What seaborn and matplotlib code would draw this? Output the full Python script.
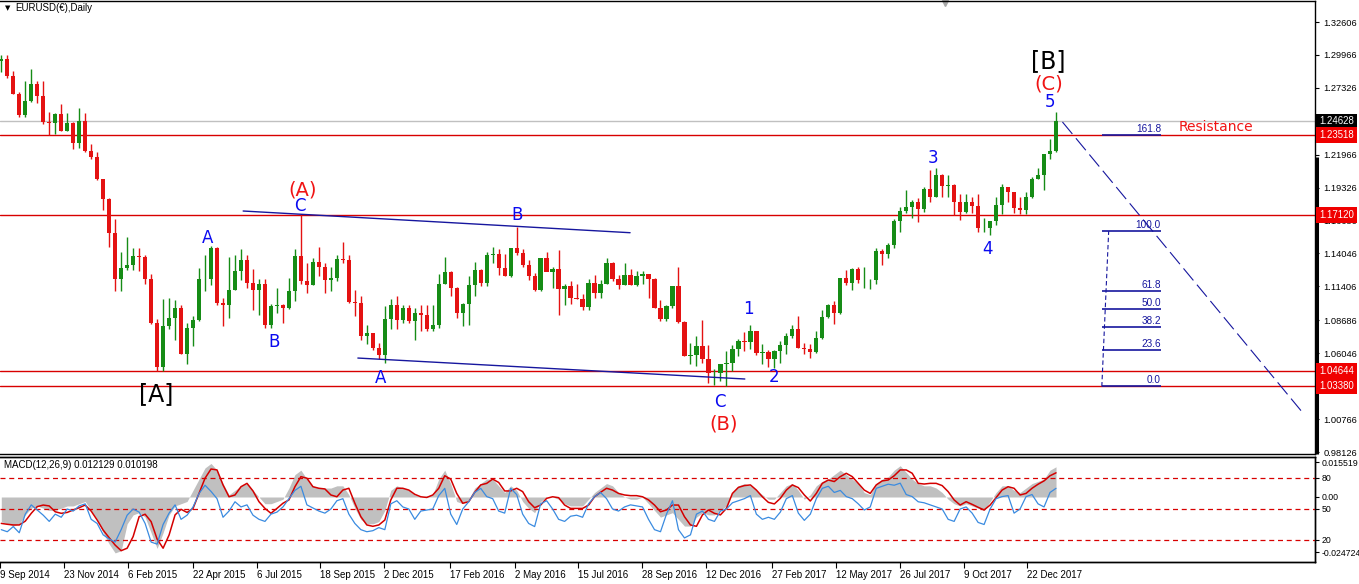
import matplotlib
matplotlib.use("Agg")
import matplotlib.pyplot as plt
import matplotlib.dates as mdates
import matplotlib.transforms as mtransforms
import numpy as np
import pandas as pd
import seaborn as sns

# ---- weekly EURUSD bars (week starting Monday) ----
week_start = pd.date_range("2014-09-08", periods=177, freq="W-MON")
first_open = 1.2950

high = [
    # 2014
    1.2995, 1.3000, 1.2865, 1.2700, 1.2790, 1.2887, 1.2790, 1.2790, 1.2540,
    1.2530, 1.2600, 1.2530, 1.2455, 1.2570, 1.2530, 1.2285, 1.2220,
    # 2015
    1.2005, 1.1850, 1.1680, 1.1420, 1.1535, 1.1450, 1.1450, 1.1390, 1.1240,
    1.0880, 1.1043, 1.1050, 1.1030, 1.0990, 1.0850, 1.0900, 1.1290, 1.1390,
    1.1467, 1.1455, 1.1050, 1.1380, 1.1390, 1.1437, 1.1390, 1.1280, 1.1200,
    1.1200, 1.1000, 1.1130, 1.1000, 1.1210, 1.1440, 1.1714, 1.1330, 1.1370,
    1.1460, 1.1330, 1.1300, 1.1390, 1.1495, 1.1390, 1.1110, 1.1060, 1.0830,
    1.0770, 1.0690, 1.0980, 1.1040, 1.1060, 1.0990, 1.0990,
    # 2016
    1.0970, 1.0990, 1.0990, 1.0990, 1.1240, 1.1376, 1.1260, 1.1135, 1.1010,
    1.1220, 1.1340, 1.1280, 1.1420, 1.1460, 1.1440, 1.1400, 1.1450, 1.1616,
    1.1440, 1.1350, 1.1250, 1.1370, 1.1420, 1.1300, 1.1430, 1.1160, 1.1180,
    1.1160, 1.1080, 1.1200, 1.1230, 1.1190, 1.1366, 1.1340, 1.1230, 1.1330,
    1.1280, 1.1260, 1.1260, 1.1240, 1.1205, 1.1030, 1.0990, 1.1140, 1.1299,
    1.0860, 1.0690, 1.0740, 1.0874, 1.0670, 1.0480, 1.0500,
    # 2017
    1.0620, 1.0670, 1.0720, 1.0775, 1.0830, 1.0785, 1.0680, 1.0630, 1.0630,
    1.0700, 1.0770, 1.0830, 1.0905, 1.0690, 1.0680, 1.0780, 1.0950, 1.1000,
    1.1020, 1.1210, 1.1270, 1.1290, 1.1295, 1.1295, 1.1200, 1.1445, 1.1440,
    1.1490, 1.1680, 1.1775, 1.1910, 1.1830, 1.1850, 1.1940, 1.2070, 1.2092,
    1.2040, 1.2035, 1.1960, 1.1880, 1.1880, 1.1860, 1.1880, 1.1690, 1.1665,
    1.1860, 1.1960, 1.1940, 1.1900, 1.1860, 1.1900, 1.2020,
    # 2018
    1.2090, 1.2200, 1.2325, 1.2537,
]

low = [
    # 2014
    1.2860, 1.2815, 1.2680, 1.2500, 1.2500, 1.2620, 1.2615, 1.2440, 1.2358,
    1.2360, 1.2390, 1.2390, 1.2245, 1.2250, 1.2220, 1.2160, 1.1995,
    # 2015
    1.1750, 1.1460, 1.1100, 1.1100, 1.1270, 1.1270, 1.1260, 1.1160, 1.0840,
    1.0462, 1.0460, 1.0800, 1.0710, 1.0600, 1.0520, 1.0660, 1.0860, 1.1100,
    1.1150, 1.0990, 1.0820, 1.0890, 1.1110, 1.1190, 1.1130, 1.0950, 1.0915,
    1.0810, 1.0808, 1.0925, 1.0850, 1.0960, 1.1020, 1.1160, 1.1090, 1.1150,
    1.1220, 1.1090, 1.1100, 1.1180, 1.1330, 1.1005, 1.0900, 1.0710, 1.0680,
    1.0630, 1.0560, 1.0524, 1.0800, 1.0800, 1.0850, 1.0850,
    # 2016
    1.0710, 1.0780, 1.0780, 1.0780, 1.0810, 1.1160, 1.1060, 1.0890, 1.0822,
    1.0830, 1.1060, 1.1140, 1.1140, 1.1330, 1.1230, 1.1220, 1.1215, 1.1390,
    1.1300, 1.1190, 1.1100, 1.1100, 1.1260, 1.1130, 1.0912, 1.0990, 1.1000,
    1.1040, 1.0952, 1.0950, 1.1050, 1.1050, 1.1160, 1.1180, 1.1120, 1.1150,
    1.1150, 1.1140, 1.1160, 1.1050, 1.0970, 1.0860, 1.0860, 1.0970, 1.0850,
    1.0580, 1.0520, 1.0500, 1.0530, 1.0365, 1.0352, 1.0380,
    # 2017
    1.0340, 1.0460, 1.0580, 1.0620, 1.0640, 1.0590, 1.0520, 1.0495, 1.0490,
    1.0525, 1.0600, 1.0730, 1.0650, 1.0600, 1.0570, 1.0605, 1.0720, 1.0890,
    1.0840, 1.0920, 1.1150, 1.1110, 1.1170, 1.1130, 1.1120, 1.1160, 1.1310,
    1.1370, 1.1450, 1.1580, 1.1730, 1.1690, 1.1660, 1.1740, 1.1820, 1.1855,
    1.1860, 1.1860, 1.1715, 1.1670, 1.1730, 1.1730, 1.1575, 1.1575, 1.1554,
    1.1630, 1.1720, 1.1820, 1.1730, 1.1720, 1.1720, 1.1850,
    # 2018
    1.2000, 1.1915, 1.2165, 1.2220,
]

close = [
    # 2014
    1.2963, 1.2830, 1.2685, 1.2515, 1.2630, 1.2760, 1.2670, 1.2455, 1.2450,
    1.2525, 1.2390, 1.2450, 1.2290, 1.2465, 1.2225, 1.2175, 1.2000,
    # 2015
    1.1840, 1.1565, 1.1200, 1.1290, 1.1315, 1.1385, 1.1380, 1.1200, 1.0845,
    1.0495, 1.0825, 1.0890, 1.0970, 1.0600, 1.0810, 1.0870, 1.1200, 1.1200,
    1.1450, 1.1010, 1.0990, 1.1110, 1.1260, 1.1350, 1.1165, 1.1110, 1.1160,
    1.0830, 1.0980, 1.0990, 1.0970, 1.1105, 1.1385, 1.1180, 1.1150, 1.1340,
    1.1300, 1.1195, 1.1210, 1.1360, 1.1350, 1.1015, 1.1005, 1.0740, 1.0770,
    1.0650, 1.0590, 1.0880, 1.0990, 1.0870, 1.0965, 1.0860,
    # 2016
    1.0925, 1.0915, 1.0795, 1.0830, 1.1160, 1.1255, 1.1130, 1.0930, 1.1000,
    1.1150, 1.1270, 1.1165, 1.1390, 1.1400, 1.1285, 1.1225, 1.1450, 1.1405,
    1.1310, 1.1225, 1.1115, 1.1365, 1.1255, 1.1280, 1.1120, 1.1140, 1.1050,
    1.1040, 1.0975, 1.1170, 1.1085, 1.1160, 1.1325, 1.1200, 1.1155, 1.1235,
    1.1155, 1.1225, 1.1240, 1.1200, 1.0970, 1.0880, 1.0985, 1.1140, 1.0855,
    1.0585, 1.0590, 1.0660, 1.0560, 1.0450, 1.0450, 1.0520,
    # 2017
    1.0530, 1.0640, 1.0700, 1.0695, 1.0780, 1.0610, 1.0615, 1.0560, 1.0620,
    1.0670, 1.0740, 1.0800, 1.0650, 1.0640, 1.0615, 1.0725, 1.0895, 1.0995,
    1.0930, 1.1205, 1.1165, 1.1280, 1.1195, 1.1195, 1.1195, 1.1425, 1.1400,
    1.1470, 1.1665, 1.1745, 1.1775, 1.1820, 1.1760, 1.1925, 1.1860, 1.2035,
    1.1945, 1.1950, 1.1815, 1.1735, 1.1820, 1.1785, 1.1605, 1.1610, 1.1665,
    1.1795, 1.1935, 1.1895, 1.1770, 1.1750, 1.1860, 1.2005,
    # 2018
    1.2030, 1.2200, 1.2225, 1.2463,
]

# MACD(12,26,9) main (grey histogram) and signal (red), weekly readings
macd_main = [
    -0.011, -0.012, -0.013, -0.012, -0.008, -0.005, -0.004, -0.005, -0.006,
    -0.006, -0.005, -0.004, -0.004, -0.003, -0.002, -0.006, -0.010,
    -0.016, -0.021, -0.025, -0.024, -0.012, -0.008, -0.007, -0.009, -0.016,
    -0.023, -0.016, -0.008, -0.004, -0.003, -0.002, 0.003, 0.008, 0.013,
    0.015, 0.012, 0.006, 0.001, 0.003, 0.005, 0.006, 0.003, 0.000,
    -0.003, -0.003, -0.002, -0.001, 0.004, 0.010, 0.012, 0.008, 0.005,
    0.004, 0.004, 0.004, 0.005, 0.005, 0.001, -0.005, -0.010, -0.012,
    -0.012, -0.011, -0.006, 0.003, 0.005, 0.004, 0.003,
    0.001, 0.000, 0.0005, 0.001, 0.008, 0.012, 0.006, -0.002, -0.003,
    -0.001, 0.004, 0.006, 0.008, 0.008, 0.005, 0.002, 0.005, 0.003,
    -0.002, -0.005, -0.007, -0.002, 0.000, 0.000, -0.001, -0.003, -0.004,
    -0.004, -0.004, -0.001, 0.002, 0.004, 0.006, 0.005, 0.002, 0.000,
    -0.001, -0.001, 0.000, -0.003, -0.006, -0.009, -0.008, -0.007, -0.010,
    -0.013, -0.013, -0.009, -0.007, -0.008, -0.008, -0.006,
    -0.004, 0.002, 0.005, 0.006, 0.005, 0.003, 0.001, -0.001, -0.001,
    0.002, 0.005, 0.006, 0.003, -0.001, 0.001, 0.005, 0.007, 0.008,
    0.010, 0.012, 0.010, 0.008, 0.006, 0.002, 0.001, 0.006, 0.008,
    0.009, 0.012, 0.014, 0.011, 0.008, 0.006, 0.005, 0.005, 0.004,
    0.002, -0.001, -0.003, -0.004, -0.003, -0.004, -0.005, -0.006, -0.002,
    0.002, 0.005, 0.005, 0.003, 0.002, 0.004, 0.006,
    0.007, 0.008, 0.012, 0.0135,
]

macd_signal = [
    -0.0118, -0.0122, -0.0125, -0.0125, -0.0108, -0.0073, -0.0043, -0.0036, -0.0040,
    -0.0066, -0.0073, -0.0069, -0.0058, -0.0048, -0.0036, -0.0063, -0.0103,
    -0.0148, -0.0182, -0.0215, -0.0240, -0.0229, -0.0177, -0.0088, -0.0077, -0.0110,
    -0.0188, -0.0229, -0.0170, -0.0080, -0.0055, -0.0069, -0.0051, 0.0016, 0.0084,
    0.0125, 0.0121, 0.0054, 0.0001, 0.0009, 0.0046, 0.0061, 0.0027, -0.0021,
    -0.0051, -0.0073, -0.0051, -0.0028, -0.0013, 0.0046, 0.0091, 0.0084, 0.0046,
    0.0039, 0.0036, 0.0009, 0.0001, 0.0031, 0.0039, -0.0028, -0.0088, -0.0125,
    -0.0131, -0.0125, -0.0103, -0.0013, 0.0039, 0.0039, 0.0031,
    0.0012, 0.0001, -0.0002, 0.0009, 0.0039, 0.0095, 0.0080, 0.0016, -0.0028,
    -0.0021, 0.0021, 0.0054, 0.0061, 0.0080, 0.0065, 0.0027, 0.0027, 0.0039,
    0.0024, -0.0021, -0.0048, -0.0036, -0.0006, 0.0001, -0.0003, -0.0036, -0.0051,
    -0.0051, -0.0051, -0.0036, 0.0001, 0.0021, 0.0039, 0.0031, 0.0016, 0.0009,
    0.0006, 0.0006, 0.0001, -0.0013, -0.0036, -0.0066, -0.0058, -0.0036, -0.0036,
    -0.0088, -0.0125, -0.0131, -0.0080, -0.0058, -0.0073, -0.0080,
    -0.0051, 0.0016, 0.0043, 0.0051, 0.0054, 0.0031, 0.0001, -0.0024, -0.0031,
    -0.0006, 0.0031, 0.0054, 0.0042, 0.0009, -0.0018, 0.0016, 0.0061, 0.0076,
    0.0069, 0.0091, 0.0106, 0.0091, 0.0061, 0.0031, 0.0016, 0.0054, 0.0072,
    0.0076, 0.0095, 0.0121, 0.0121, 0.0106, 0.0061, 0.0058, 0.0061, 0.0061,
    0.0051, 0.0024, -0.0013, -0.0036, -0.0021, -0.0033, -0.0046, -0.0058, -0.0036,
    -0.0003, 0.0031, 0.0046, 0.0039, 0.0009, 0.0016, 0.0039,
    0.0057, 0.0072, 0.0095, 0.0108,
]

# blue oscillator on the 0-100 scale (levels 20 / 50 / 80)
oscillator = [
    30, 28, 33, 27, 45, 54, 49, 44, 38, 45, 42, 50, 48, 53, 55, 40, 36,
    25, 21, 18, 30, 44, 50, 47, 36, 18, 16, 35, 46, 54, 40, 44, 52, 65, 73,
    67, 60, 42, 48, 57, 52, 54, 44, 40, 38, 45, 47, 52, 60, 68, 72, 54, 51,
    48, 46, 50, 58, 60, 45, 36, 30, 28, 29, 32, 30, 55, 58, 52, 50,
    40, 48, 49, 50, 63, 70, 45, 35, 50, 57, 66, 70, 62, 60, 48, 46, 70, 64,
    45, 36, 33, 55, 58, 50, 40, 38, 43, 44, 42, 55, 62, 66, 60, 50, 48, 52,
    54, 53, 52, 40, 30, 28, 45, 58, 30, 22, 25, 45, 48, 40, 38, 48,
    50, 56, 58, 60, 63, 45, 40, 42, 40, 47, 60, 63, 46, 39, 45, 60, 70, 72,
    66, 68, 62, 60, 55, 49, 52, 70, 72, 74, 73, 75, 64, 62, 57, 56, 54, 52,
    50, 40, 38, 50, 52, 46, 37, 35, 50, 60, 62, 63, 46, 50, 62, 64,
    55, 52, 66, 70,
]
osc_levels = [80, 50, 20]

for series in (high, low, close, macd_main, macd_signal, oscillator):
    assert len(series) == len(week_start), len(series)

# horizontal levels drawn on the chart
current_price = 1.24628
red_levels = [1.23518, 1.17120, 1.04644, 1.03380]

# fibonacci retracement 0 -> 100
fib_low, fib_high = 1.0338, 1.1583
fib_ratios = [0.0, 23.6, 38.2, 50.0, 61.8, 100.0, 161.8]

price_ticks = [1.32606, 1.29966, 1.27326, 1.21966, 1.19326, 1.16686, 1.14046,
               1.11406, 1.08686, 1.06046, 1.00766, 0.98126]

date_ticks = ["2014-09-09", "2014-11-23", "2015-02-06", "2015-04-22", "2015-07-06",
              "2015-09-18", "2015-12-02", "2016-02-17", "2016-05-02", "2016-07-15",
              "2016-09-28", "2016-12-12", "2017-02-27", "2017-05-12", "2017-07-26",
              "2017-10-09", "2017-12-22"]
date_tick_labels = ["9 Sep 2014", "23 Nov 2014", "6 Feb 2015", "22 Apr 2015", "6 Jul 2015",
                    "18 Sep 2015", "2 Dec 2015", "17 Feb 2016", "2 May 2016", "15 Jul 2016",
                    "28 Sep 2016", "12 Dec 2016", "27 Feb 2017", "12 May 2017", "26 Jul 2017",
                    "9 Oct 2017", "22 Dec 2017"]

# Elliott wave labels: text, date, price, colour, size
BLUE, RED, BLACK = "#0a0af0", "#f01414", "#000000"
wave_labels = [
    ("[A]", "2015-03-10", 1.0278, BLACK, 17),
    ("A", "2015-05-09", 1.1529, BLUE, 12),
    ("B", "2015-07-26", 1.0695, BLUE, 12),
    ("(A)", "2015-08-28", 1.1913, RED, 14),
    ("C", "2015-08-25", 1.1785, BLUE, 12),
    ("A", "2015-11-27", 1.0406, BLUE, 12),
    ("B", "2016-05-05", 1.1713, BLUE, 12),
    ("C", "2016-12-28", 1.0213, BLUE, 12),
    ("(B)", "2017-01-01", 1.0037, RED, 14),
    ("1", "2017-01-30", 1.0959, BLUE, 12),
    ("2", "2017-03-01", 1.0414, BLUE, 12),
    ("3", "2017-09-03", 1.2170, BLUE, 12),
    ("4", "2017-11-05", 1.1440, BLUE, 12),
    ("5", "2018-01-18", 1.2619, BLUE, 12),
    ("(C)", "2018-01-16", 1.2764, RED, 14),
    ("[B]", "2018-01-16", 1.2944, BLACK, 17),
]

# trend channel and projection lines: (start date, start price, end date, end price)
upper_line = ("2015-06-20", 1.1745, "2016-09-14", 1.1571)
lower_line = ("2015-11-01", 1.0566, "2017-01-26", 1.0398)
projection = ("2018-02-01", 1.2459, "2018-11-08", 1.0133)
fib_span = ("2018-03-19", "2018-05-27")
fib_stem = ("2018-03-19", "2018-03-27")

# ---- style ----
sns.set_theme(style="white")
plt.rcParams["font.family"] = ["Liberation Sans", "DejaVu Sans"]

BULL, BEAR = "#168c16", "#e41212"
LINE_RED = "#d80000"
NAVY = "#16169e"
W, H = 1359, 584


def px_rect(x0, y0, x1, y1):
    return [x0 / W, 1 - y1 / H, (x1 - x0) / W, (y1 - y0) / H]


def dnum(s):
    return mdates.date2num(pd.Timestamp(s))


fig = plt.figure(figsize=(W / 100, H / 100), dpi=100, facecolor="white")
ax = fig.add_axes(px_rect(0, 1, 1315, 454))
ax_m = fig.add_axes(px_rect(0, 457, 1315, 562), sharex=ax)

x_mid = mdates.date2num(week_start) + 2.5
opens = np.array([first_open] + close[:-1])
closes = np.array(close)
colors = np.where(closes >= opens, BULL, BEAR)

# ---- price panel ----
ax.axhline(current_price, color="#c0c0c0", lw=1, zorder=1)
for lv in red_levels:
    ax.axhline(lv, color=LINE_RED, lw=1, zorder=1)

ax.vlines(x_mid, low, high, colors=colors, linewidth=1.0, zorder=3)
ax.bar(x_mid, closes - opens, bottom=opens, width=5.0, color=colors,
       linewidth=0, zorder=3)

for d0, p0, d1, p1 in (upper_line, lower_line):
    ax.plot([dnum(d0), dnum(d1)], [p0, p1], color=NAVY, lw=1, zorder=4)
d0, p0, d1, p1 = projection
ax.plot([dnum(d0), dnum(d1)], [p0, p1], color=NAVY, lw=0.8,
        linestyle=(0, (14, 5)), zorder=4)

fib_prices = [fib_low + r / 100 * (fib_high - fib_low) for r in fib_ratios]
ax.hlines(fib_prices, dnum(fib_span[0]), dnum(fib_span[1]), color=NAVY, lw=1.2, zorder=5)
ax.plot([dnum(fib_stem[0]), dnum(fib_stem[1])], [fib_low, fib_high], color=NAVY,
        lw=0.8, linestyle=(0, (4, 2.5)), zorder=5)
lift = mtransforms.offset_copy(ax.transData, fig=fig, x=0, y=1, units="dots")
for r, p in zip(fib_ratios, fib_prices):
    ax.text(dnum(fib_span[1]), p, f"{r:.1f}", transform=lift, ha="right", va="bottom",
            fontsize=7.2, color=NAVY, zorder=6)

for txt, d, p, col, size in wave_labels:
    ax.text(dnum(d), p, txt, ha="center", va="center", color=col, fontsize=size,
            family="DejaVu Sans", zorder=7)
ax.text(dnum("2018-06-17"), 1.2415, "Resistance", ha="left", va="center",
        color=RED, fontsize=10, family="DejaVu Sans", zorder=7)

ax.text(0.0035, 0.9845, "\u25bc", transform=ax.transAxes, fontsize=5,
        family="DejaVu Sans", va="center", ha="left", color="black")
ax.text(15 / 1315, 0.9845, "EURUSD(\u20ac),Daily", transform=ax.transAxes,
        fontsize=7, va="center", ha="left", color="black")
ax.plot([945 / 1315], [0.996], marker="v", ms=5, color="#a8a8a8",
        transform=ax.transAxes, clip_on=False)

ax.set_xlim(dnum("2014-09-09"), dnum("2018-11-23"))
ax.set_ylim(0.97966, 1.34290)
ax.yaxis.tick_right()
ax.set_yticks(price_ticks)
ax.set_yticklabels([f"{v:.5f}" for v in price_ticks])
ax.tick_params(axis="y", right=True, left=False, length=3, width=0.8,
               direction="out", pad=3, labelsize=6.7, colors="black")
ax.tick_params(axis="x", bottom=False, labelbottom=False)
for side in ("top", "right", "bottom"):
    ax.spines[side].set_color("black")
    ax.spines[side].set_linewidth(1)
ax.spines["left"].set_visible(False)

# thick segment on the price scale
edge = mtransforms.blended_transform_factory(ax.transAxes, ax.transData)
ax.plot([1.0013, 1.0013], [1.2178, 0.97966], transform=edge, color="black",
        lw=2.2, clip_on=False, solid_capstyle="butt")


def price_tag(value, face):
    ax.annotate(f"{value:.5f}", xy=(1, value), xycoords=("axes fraction", "data"),
                xytext=(4, 0), textcoords="offset pixels", ha="left", va="center",
                fontsize=6.9, color="white", annotation_clip=False, zorder=10,
                bbox=dict(boxstyle="square,pad=0.3", fc=face, ec="none"))


price_tag(current_price, "black")
for lv in red_levels:
    price_tag(lv, "#f00000")

# ---- MACD panel ----
ax_o = ax_m.twinx()
ax_m.fill_between(x_mid, 0, macd_main, color="#c0c0c0", linewidth=0, zorder=1)
sns.lineplot(x=x_mid, y=macd_signal, ax=ax_m, color="#d40000", linewidth=1.1, zorder=3)
sns.lineplot(x=x_mid, y=oscillator, ax=ax_o, color="#3a8be0", linewidth=0.9, zorder=3)
for lv in osc_levels:
    ax_o.axhline(lv, color=LINE_RED, lw=0.9, linestyle=(0, (4, 3)), zorder=2)

ax_m.set_ylim(-0.02906, 0.01788)
ax_o.set_ylim(-1.29, 100.32)
ax_m.yaxis.tick_right()
ax_m.set_yticks([0.015519, 0.0, -0.024724])
ax_m.set_yticklabels(["0.015519", "0.00", "-0.024724"])
ax_o.set_yticks(osc_levels)
ax_o.set_yticklabels([str(v) for v in osc_levels])
for a in (ax_m, ax_o):
    a.tick_params(axis="y", right=True, left=False, length=3, width=0.8,
                  direction="out", pad=2, labelsize=6.3, colors="black")
    a.set_xlabel("")
    a.set_ylabel("")
    a.spines["left"].set_visible(False)
    for side in ("top", "right", "bottom"):
        a.spines[side].set_color("black")
        a.spines[side].set_linewidth(1)

ax_m.set_xticks([dnum(d) for d in date_ticks])
ax_m.set_xticklabels(date_tick_labels, ha="left")
ax_m.tick_params(axis="x", bottom=True, length=4, width=0.8, direction="out",
                 pad=1.5, labelsize=7, colors="black")
ax_m.set_xlim(dnum("2014-09-09"), dnum("2018-11-23"))

ax_m.text(4 / 1315, 0.924, "MACD(12,26,9) 0.012129 0.010198", transform=ax_m.transAxes,
          fontsize=7, va="center", ha="left", color="black", zorder=8)

fig.savefig("out.png", dpi=100, facecolor="white")
